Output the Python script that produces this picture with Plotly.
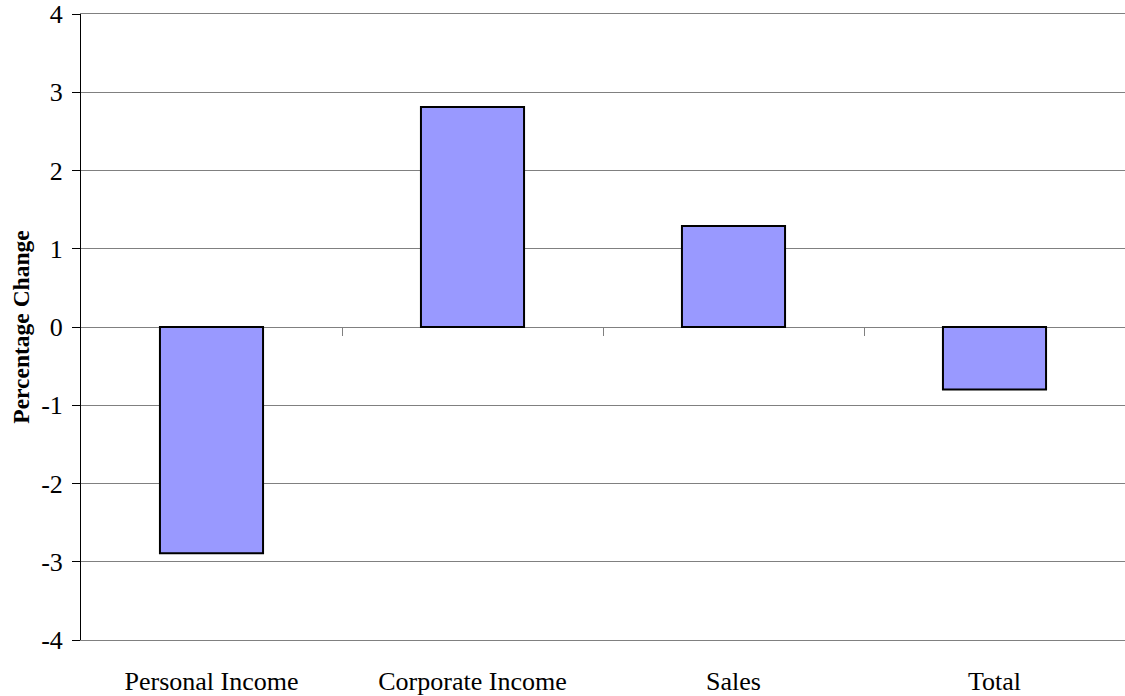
import plotly.graph_objects as go

categories = ["Personal Income", "Corporate Income", "Sales", "Total"]
values = [-2.89, 2.81, 1.29, -0.8]
y_ticks = [-4, -3, -2, -1, 0, 1, 2, 3, 4]
y_tick_text = ["-4", "-3", "-2", "-1", "0", "1", "2", "3", "4"]

fig = go.Figure()
fig.add_trace(go.Bar(
    x=list(range(len(categories))), y=values,
    marker=dict(color="#9999FF", line=dict(color="#000000", width=2)),
    width=0.395, hoverinfo="skip",
))
# invisible trace to carry the zero-line category boundary ticks
fig.add_trace(go.Scatter(x=[-0.5, 3.5], y=[0, 0], xaxis="x2", mode="lines",
                         line=dict(width=0), showlegend=False, hoverinfo="skip"))

font = dict(family="Liberation Serif, Times New Roman, serif", size=26, color="#000000")

fig.update_layout(
    width=1125, height=696,
    margin=dict(l=81, r=0, t=14, b=54),
    plot_bgcolor="#FFFFFF", paper_bgcolor="#FFFFFF",
    showlegend=False,
    font=font,
    xaxis=dict(
        range=[-0.5, 3.5], tickvals=list(range(len(categories))), ticktext=categories,
        showgrid=False, zeroline=False, showline=True, mirror=True,
        linecolor="#808080", linewidth=1, ticks="",
        tickfont=font, ticklabelstandoff=18,
    ),
    xaxis2=dict(
        overlaying="x", anchor="free", position=0.5, range=[-0.5, 3.5],
        tickvals=[0.5, 1.5, 2.5], showticklabels=False, ticks="outside",
        ticklen=8, tickwidth=1, tickcolor="#808080", showgrid=False,
        zeroline=False, showline=False,
    ),
    yaxis=dict(
        range=[-4, 4], tickvals=y_ticks, ticktext=y_tick_text,
        showgrid=True, gridcolor="#808080", gridwidth=1,
        zeroline=False, showline=True, linecolor="#000000", linewidth=1,
        ticks="outside", ticklen=8, tickcolor="#000000", tickfont=font,
        ticklabelstandoff=4,
        title=dict(text="<b>Percentage Change</b>", font=dict(
            family="Liberation Serif, Times New Roman, serif", size=23.5, color="#000000"),
            standoff=4),
    ),
)

fig.write_html("out.html")
